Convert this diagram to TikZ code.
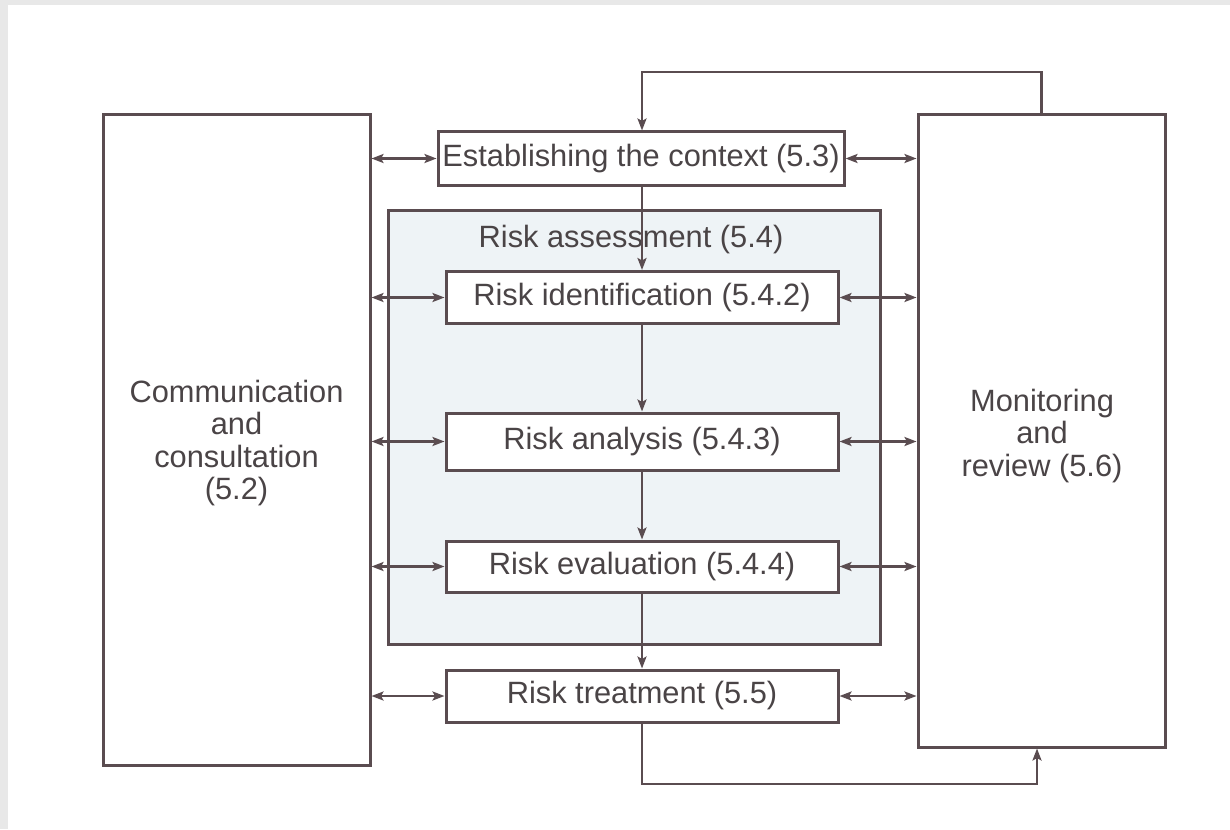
\documentclass[tikz,border=0pt]{standalone}
\usepackage{fontspec}
\setmainfont{Liberation Sans}
\usetikzlibrary{arrows.meta}
\definecolor{ln}{HTML}{5A4C50}
\definecolor{tx}{HTML}{4A4446}
\definecolor{fillb}{HTML}{EEF3F6}
\definecolor{framec}{HTML}{E8E8E8}
\begin{document}
\begin{tikzpicture}[x=1pt,y=-1pt,
  font=\fontsize{30.8}{32.5}\selectfont,
  every node/.style={text=tx},
  tip/.tip={Stealth[length=12pt,width=9pt,inset=2.5pt]},
  frame/.style={draw=ln, line width=3pt, inner sep=0pt, align=center},
  box/.style={frame, fill=white, minimum width=392pt, minimum height=52pt},
  lbl/.style={align=center, inner sep=0pt},
  arr/.style={draw=ln, line width=2.4pt, -tip},
  dbl/.style={draw=ln, line width=2.4pt, tip-tip}]
\fill[framec] (0,0) rectangle (1230,829);
\fill[white] (8,5) rectangle (1230,829);
\useasboundingbox (0,0) rectangle (1230,829);

% side boxes
\node[frame, minimum width=267pt, minimum height=650pt] (comm) at (236.5,440) {};
\node[lbl] (comml) at (236.5,443) {Communication\\and\\consultation\\(5.2)};
\node[frame, minimum width=247pt, minimum height=632pt] (mon) at (1041.5,431) {};
\node[lbl] (monl) at (1042,436) {Monitoring\\and\\review (5.6)};

% risk assessment container
\node[frame, fill=fillb, minimum width=492pt, minimum height=434pt] (rass) at (634,427) {};
\node (rassl) at (631,240) {Risk assessment (5.4)};

% process boxes
\node[box, minimum width=406pt, minimum height=53pt] (est) at (641,158.5) {Establishing the context (5.3)};
\node[box] (rid) at (642,297.5) {Risk identification (5.4.2)};
\node[box, minimum height=57pt] (ran) at (642,441.5) {Risk analysis (5.4.3)};
\node[box, minimum height=51pt] (rev) at (642,566.5) {Risk evaluation (5.4.4)};
\node[box] (rtr) at (642,696) {Risk treatment (5.5)};

% vertical flow
\draw[arr] (est.south -| rid.north) -- (rid.north);
\draw[arr] (rid.south) -- (ran.north);
\draw[arr] (ran.south) -- (rev.north);
\draw[arr] (rev.south) -- (rtr.north);

% feedback loops
\coordinate (tp) at (642,72);
\draw[arr] (mon.north) |- (tp) -- (tp |- est.north);
\coordinate (bt) at (1037,784);
\draw[arr] (rtr.south) |- (bt) -- (bt |- mon.south);

% communication arrows
\foreach \n in {est,rid,ran,rev,rtr}{
  \draw[dbl] (comm.east |- \n.west) -- (\n.west);
  \draw[dbl] (\n.east) -- (mon.west |- \n.east);
}
\end{tikzpicture}
\end{document}
